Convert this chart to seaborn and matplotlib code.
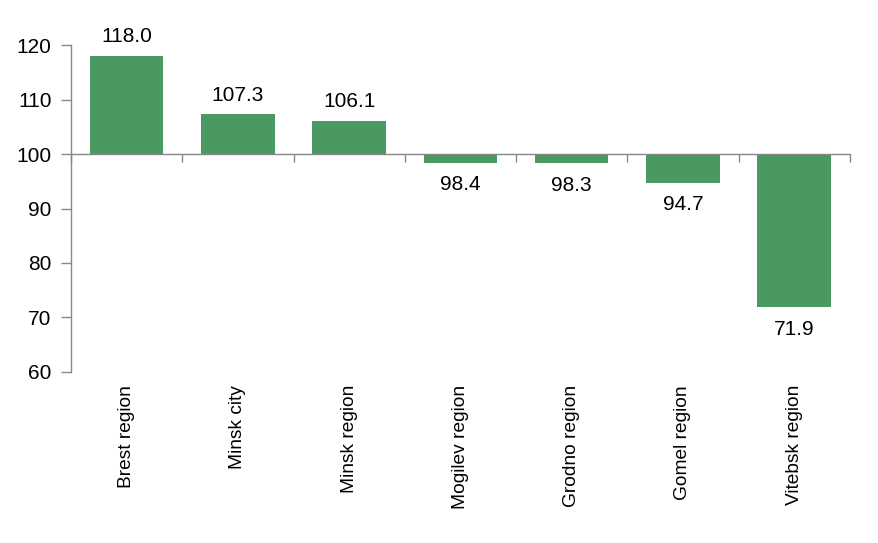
import matplotlib
matplotlib.use("Agg")
import matplotlib.pyplot as plt
import matplotlib.transforms as mtransforms
from matplotlib.ticker import FixedLocator, FuncFormatter
import seaborn as sns
import pandas as pd

categories = ["Brest region", "Minsk city", "Minsk region", "Mogilev region",
              "Grodno region", "Gomel region", "Vitebsk region"]
values = [118.0, 107.3, 106.1, 98.4, 98.3, 94.7, 71.9]
base = 100
y_ticks = [60, 70, 80, 90, 100, 110, 120]

sns.set_theme(style="white")
plt.rcParams['font.family'] = ['Liberation Sans', 'DejaVu Sans']
plt.rcParams['text.color'] = 'black'

df = pd.DataFrame({"region": categories, "delta": [v - base for v in values]})

fig = plt.figure(figsize=(8.79, 5.43), dpi=100)
ax = fig.add_axes([0.0808, 0.315, 0.886, 0.602])
sns.barplot(data=df, x="region", y="delta", color="#4a9862", saturation=1,
            width=0.66, linewidth=0, ax=ax)

ax.set_ylim(y_ticks[0] - base, y_ticks[-1] - base)
ax.set_xlim(-0.5, len(categories) - 0.5)
ax.yaxis.set_major_locator(FixedLocator([t - base for t in y_ticks]))
ax.yaxis.set_major_formatter(FuncFormatter(lambda v, p: f"{v + base:.0f}"))
ax.tick_params(axis="y", labelsize=15, colors="#888888", labelcolor="black",
               direction="out", length=7, width=1, left=True, pad=7)

for s in ["top", "right"]:
    ax.spines[s].set_visible(False)
for s in ["left", "bottom"]:
    ax.spines[s].set_color("#888888")
    ax.spines[s].set_linewidth(1)
ax.spines["bottom"].set_position(("data", 0))

ax.xaxis.set_major_locator(FixedLocator([i + 0.5 for i in range(-1, len(categories))]))
ax.set_xticklabels([])
ax.tick_params(axis="x", bottom=True, direction="out", length=6, width=1,
               colors="#888888")
ax.set_xlabel("")
ax.set_ylabel("")

trans = mtransforms.blended_transform_factory(ax.transData, ax.transAxes)
for i, c in enumerate(categories):
    ax.text(i, -0.04, c, transform=trans, rotation=90, ha="center", va="top",
            fontsize=13.8, color="black")

for i, v in enumerate(values):
    d = v - base
    if d >= 0:
        ax.annotate(f"{v:.1f}", (i, d), xytext=(0, 7), textcoords="offset points",
                    ha="center", va="bottom", fontsize=15, color="black")
    else:
        ax.annotate(f"{v:.1f}", (i, d), xytext=(0, -9), textcoords="offset points",
                    ha="center", va="top", fontsize=15, color="black")

fig.savefig("out.png", dpi=100, facecolor="white")
